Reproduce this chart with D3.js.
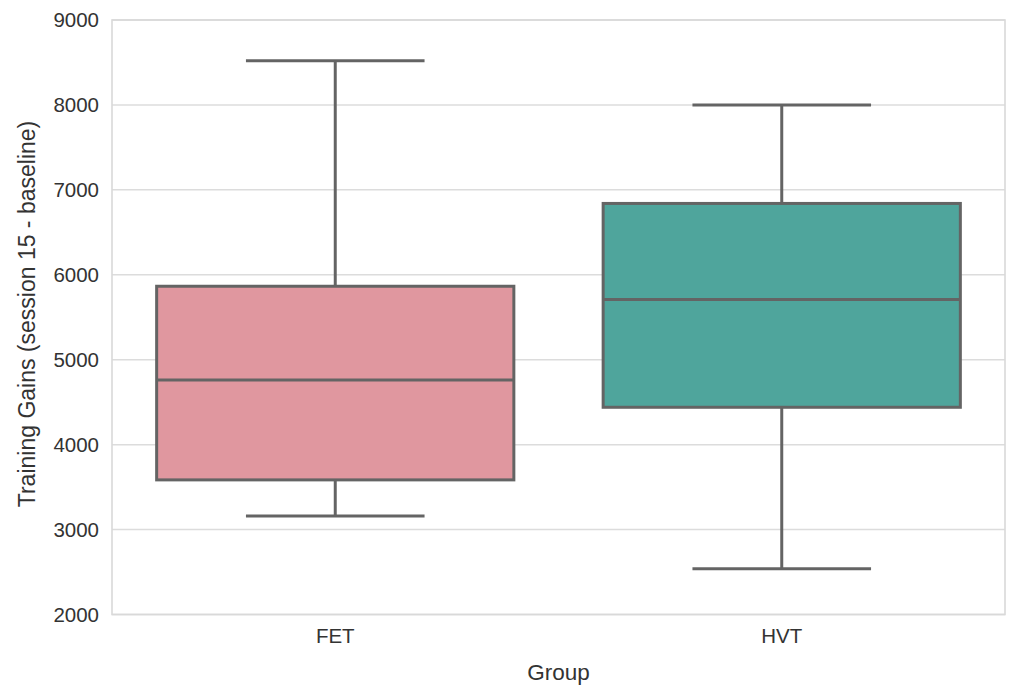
<!DOCTYPE html>
<html>
<head>
<meta charset="utf-8">
<script src="https://cdn.jsdelivr.net/npm/d3@7"></script>
<style>
  body { margin: 0; background: #fff; }
  text { font-family: "Liberation Sans", Arial, sans-serif; }
</style>
</head>
<body>
<svg id="chart" width="1010" height="685"></svg>
<script>
// box summaries
const groups = ['FET', 'HVT'];
const whiskerLow = [3160, 2540];
const q1 = [3585, 4440];
const median = [4760, 5710];
const q3 = [5865, 6840];
const whiskerHigh = [8520, 8000];
const colors = ['#e0979f', '#4fa59c'];
const yTicks = [2000, 3000, 4000, 5000, 6000, 7000, 8000, 9000];

const svg = d3.select('#chart');
const plotLeft = 112, plotRight = 1005, plotTop = 20, plotBottom = 614.5;

let x = d3.scaleBand()
    .domain(groups)
    .range([plotLeft, plotRight]);

let y = d3.scaleLinear()
    .domain([2000, 9000])
    .range([plotBottom, plotTop]);

// grid lines
svg.append('g')
    .selectAll('line')
    .data(yTicks)
    .join('line')
    .attr('x1', plotLeft).attr('x2', plotRight)
    .attr('y1', d => y(d)).attr('y2', d => y(d))
    .attr('stroke', '#dcdcdc')
    .attr('stroke-width', 1.5);

// frame
svg.append('rect')
    .attr('x', plotLeft).attr('y', plotTop)
    .attr('width', plotRight - plotLeft).attr('height', plotBottom - plotTop)
    .attr('fill', 'none')
    .attr('stroke', '#d9d9d9')
    .attr('stroke-width', 1.6);

let yaxis = d3.axisLeft(y).tickValues(yTicks).tickFormat(d3.format('d')).tickSize(0).tickPadding(13);
let gy = svg.append('g')
    .attr('transform', `translate(${plotLeft}, 0)`)
    .call(yaxis);
gy.select('.domain').remove();
gy.selectAll('text').attr('font-size', 20.5).attr('fill', '#333');

let xaxis = d3.axisBottom(x).tickSize(0).tickPadding(14);
let gx = svg.append('g')
    .attr('transform', `translate(0, ${plotBottom})`)
    .call(xaxis);
gx.select('.domain').remove();
gx.selectAll('text').attr('font-size', 20.5).attr('fill', '#333');

const lineColor = '#646464';
const lw = 3;
const boxW = x.bandwidth() * 0.8;

groups.forEach((g, i) => {
    let cx = x(g) + x.bandwidth() / 2;
    let grp = svg.append('g');
    // whiskers
    grp.append('line')
        .attr('x1', cx).attr('x2', cx)
        .attr('y1', y(whiskerHigh[i])).attr('y2', y(q3[i]))
        .attr('stroke', lineColor).attr('stroke-width', lw);
    grp.append('line')
        .attr('x1', cx).attr('x2', cx)
        .attr('y1', y(q1[i])).attr('y2', y(whiskerLow[i]))
        .attr('stroke', lineColor).attr('stroke-width', lw);
    // caps
    [whiskerHigh[i], whiskerLow[i]].forEach(v => {
        grp.append('line')
            .attr('x1', cx - boxW / 4).attr('x2', cx + boxW / 4)
            .attr('y1', y(v)).attr('y2', y(v))
            .attr('stroke', lineColor).attr('stroke-width', lw);
    });
    // box
    grp.append('rect')
        .attr('x', cx - boxW / 2)
        .attr('y', y(q3[i]))
        .attr('width', boxW)
        .attr('height', y(q1[i]) - y(q3[i]))
        .attr('fill', colors[i])
        .attr('stroke', lineColor).attr('stroke-width', lw);
    // median
    grp.append('line')
        .attr('x1', cx - boxW / 2).attr('x2', cx + boxW / 2)
        .attr('y1', y(median[i])).attr('y2', y(median[i]))
        .attr('stroke', lineColor).attr('stroke-width', lw);
});

svg.append('text')
    .attr('x', (plotLeft + plotRight) / 2)
    .attr('y', 680)
    .attr('text-anchor', 'middle')
    .attr('font-size', 22.5)
    .attr('fill', '#333')
    .text('Group');

svg.append('text')
    .attr('transform', `translate(35, 314) rotate(-90)`)
    .attr('text-anchor', 'middle')
    .attr('font-size', 23)
    .attr('fill', '#333')
    .text('Training Gains (session 15 - baseline)');
</script>
</body>
</html>
